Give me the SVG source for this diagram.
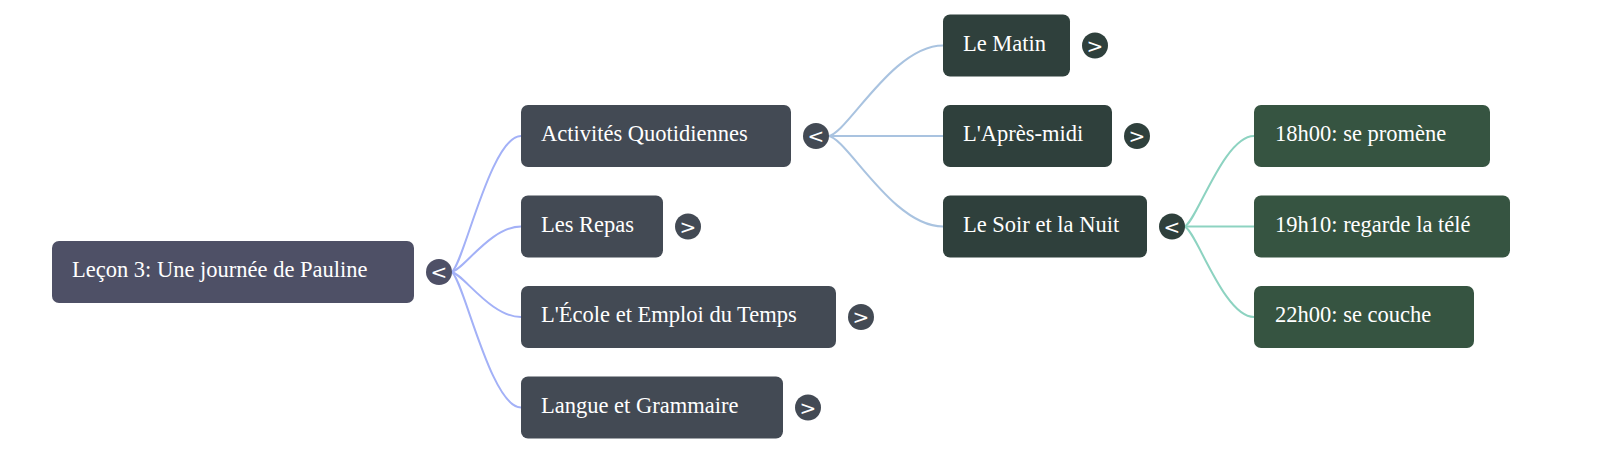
<svg xmlns="http://www.w3.org/2000/svg" width="1600" height="453" viewBox="0 0 1600 453">
<style>
.t{font-family:"Liberation Serif","Times New Roman",serif;font-size:22.5px;fill:#ffffff}
.b{font-family:"DejaVu Sans","Liberation Sans",sans-serif;font-size:20px;fill:#ffffff;text-anchor:middle}
.l{fill:none;stroke-width:2}
.l0{stroke:#a3b1f7}
.l1{stroke:#a9c3e0}
.l2{stroke:#8dd3c1}
.r0{fill:#4e5066}
.r1{fill:#434a54}
.r2{fill:#2f403c}
.r3{fill:#365441}
</style>
<rect width="1600" height="453" fill="#ffffff"/>
<g id="connectors">
<path class="l l0" d="M451,272 C462,272 490,136 521,136"/>
<path class="l l0" d="M451,272 C462,272 490,226.5 521,226.5"/>
<path class="l l0" d="M451,272 C462,272 490,317 521,317"/>
<path class="l l0" d="M451,272 C462,272 490,407.5 521,407.5"/>
<path class="l l1" d="M828,136 C846,136 892,45.5 943,45.5"/>
<path class="l l1" d="M828,136 L943,136"/>
<path class="l l1" d="M828,136 C846,136 892,226.5 943,226.5"/>
<path class="l l2" d="M1184,226.5 C1195,226.5 1223,136 1254,136"/>
<path class="l l2" d="M1184,226.5 L1254,226.5"/>
<path class="l l2" d="M1184,226.5 C1195,226.5 1223,317 1254,317"/>
</g>
<g id="root">
<rect class="r0" x="52" y="241" width="362" height="62" rx="7"/>
<text class="t" x="72" y="277">Leçon 3: Une journée de Pauline</text>
<circle class="r0" cx="439" cy="272" r="13"/>
<text class="b" x="439" y="279">&lt;</text>
</g>
<g id="n-activites">
<rect class="r1" x="521" y="105" width="270" height="62" rx="7"/>
<text class="t" x="541" y="141">Activités Quotidiennes</text>
<circle class="r1" cx="816" cy="136" r="13"/>
<text class="b" x="816" y="143">&lt;</text>
</g>
<g id="n-repas">
<rect class="r1" x="521" y="195.5" width="142" height="62" rx="7"/>
<text class="t" x="541" y="231.5">Les Repas</text>
<circle class="r1" cx="688" cy="226.5" r="13"/>
<text class="b" x="688" y="233.5">&gt;</text>
</g>
<g id="n-ecole">
<rect class="r1" x="521" y="286" width="315" height="62" rx="7"/>
<text class="t" x="541" y="322">L'École et Emploi du Temps</text>
<circle class="r1" cx="861" cy="317" r="13"/>
<text class="b" x="861" y="324">&gt;</text>
</g>
<g id="n-langue">
<rect class="r1" x="521" y="376.5" width="262" height="62" rx="7"/>
<text class="t" x="541" y="412.5">Langue et Grammaire</text>
<circle class="r1" cx="808" cy="407.5" r="13"/>
<text class="b" x="808" y="414.5">&gt;</text>
</g>
<g id="n-matin">
<rect class="r2" x="943" y="14.5" width="127" height="62" rx="7"/>
<text class="t" x="963" y="50.5">Le Matin</text>
<circle class="r2" cx="1095" cy="45.5" r="13"/>
<text class="b" x="1095" y="52.5">&gt;</text>
</g>
<g id="n-apresmidi">
<rect class="r2" x="943" y="105" width="169" height="62" rx="7"/>
<text class="t" x="963" y="141">L'Après-midi</text>
<circle class="r2" cx="1137" cy="136" r="13"/>
<text class="b" x="1137" y="143">&gt;</text>
</g>
<g id="n-soir">
<rect class="r2" x="943" y="195.5" width="204" height="62" rx="7"/>
<text class="t" x="963" y="231.5">Le Soir et la Nuit</text>
<circle class="r2" cx="1172" cy="226.5" r="13"/>
<text class="b" x="1172" y="233.5">&lt;</text>
</g>
<g id="n-1800">
<rect class="r3" x="1254" y="105" width="236" height="62" rx="7"/>
<text class="t" x="1275" y="141">18h00: se promène</text>
</g>
<g id="n-1910">
<rect class="r3" x="1254" y="195.5" width="256" height="62" rx="7"/>
<text class="t" x="1275" y="231.5">19h10: regarde la télé</text>
</g>
<g id="n-2200">
<rect class="r3" x="1254" y="286" width="220" height="62" rx="7"/>
<text class="t" x="1275" y="322">22h00: se couche</text>
</g>
</svg>
